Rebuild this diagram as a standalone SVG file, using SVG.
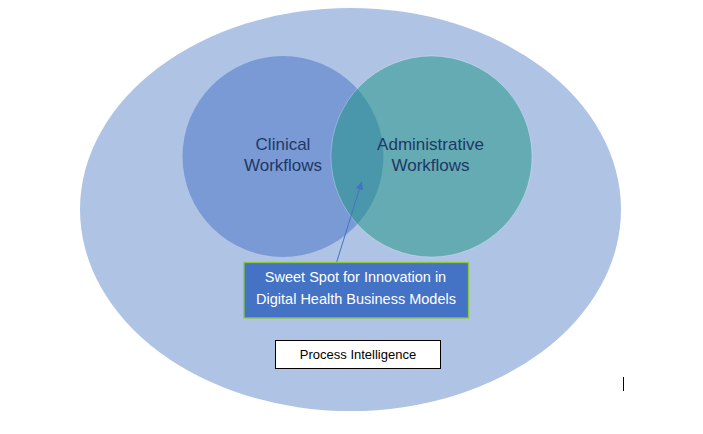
<svg xmlns="http://www.w3.org/2000/svg" width="703" height="434" viewBox="0 0 703 434">
<defs>
<style>
.lbl{font-family:"Liberation Sans",Arial,sans-serif;font-size:17px;fill:#203864;text-anchor:middle}
.box{font-family:"Liberation Sans",Arial,sans-serif;font-size:14.5px;fill:#ffffff;text-anchor:middle}
.pi{font-family:"Liberation Sans",Arial,sans-serif;font-size:13px;fill:#000000;text-anchor:middle}
</style>
<marker id="ah" viewBox="0 0 10 10" refX="10" refY="5" markerWidth="8" markerHeight="8" markerUnits="userSpaceOnUse" orient="auto">
<path d="M0,0 L10,5 L0,10 z" fill="#4472C4"/>
</marker>
</defs>
<rect width="703" height="434" fill="#ffffff"/>
<g id="process-intelligence-area">
<ellipse cx="350.5" cy="209.5" rx="270.5" ry="201.5" fill="#AFC3E5"/>
</g>
<g id="clinical">
<circle cx="283" cy="156.5" r="100.5" fill="#7A9AD5"/>
<text class="lbl" x="283" y="150">Clinical</text>
<text class="lbl" x="283" y="171">Workflows</text>
</g>
<g id="administrative">
<circle cx="431.5" cy="156.5" r="100.5" fill="#1A9484" fill-opacity="0.5" stroke="#ffffff" stroke-opacity="0.35" stroke-width="0.8"/>
<text class="lbl" x="430.5" y="150">Administrative</text>
<text class="lbl" x="430.5" y="171">Workflows</text>
</g>
<g id="connectors">
<line x1="336.7" y1="262" x2="361.7" y2="181.7" stroke="#4472C4" stroke-width="1" marker-end="url(#ah)"/>
</g>
<g id="sweet-spot">
<rect x="244" y="262.5" width="224.5" height="55.5" fill="#4472C4" stroke="#8DC63F" stroke-width="1.3"/>
<text class="box" x="355.5" y="281.5">Sweet Spot for Innovation in</text>
<text class="box" x="356" y="303.5">Digital Health Business Models</text>
</g>
<g id="process-intelligence">
<rect x="275.5" y="340.5" width="165" height="28" fill="#ffffff" stroke="#000000" stroke-width="1"/>
<text class="pi" x="358" y="359">Process Intelligence</text>
</g>
<line x1="623.5" y1="377" x2="623.5" y2="391" stroke="#000000" stroke-width="1"/>
</svg>
